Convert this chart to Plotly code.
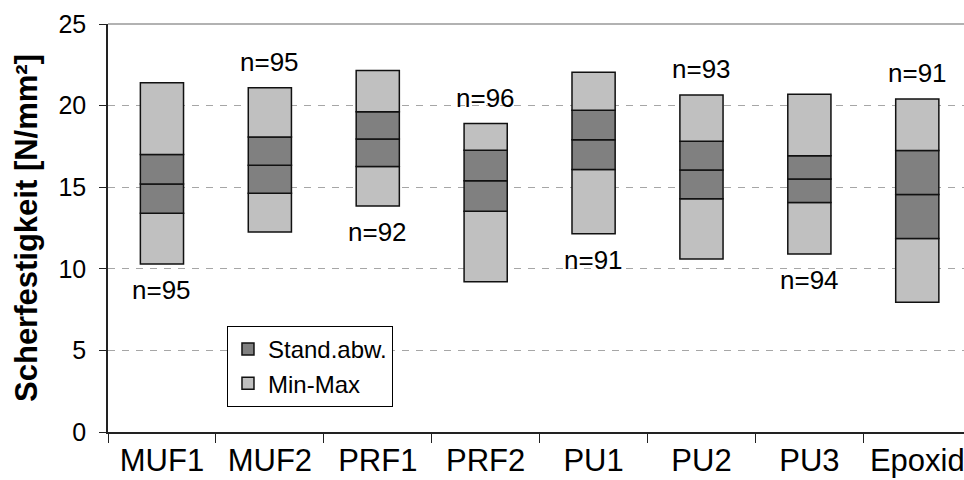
import plotly.graph_objects as go

# Shear strength per adhesive: minimum, mean, standard deviation, maximum [N/mm²]
adhesives = ["MUF1", "MUF2", "PRF1", "PRF2", "PU1", "PU2", "PU3", "Epoxid"]
min_vals = [10.3, 12.25, 13.85, 9.2, 12.15, 10.6, 10.9, 7.95]
mean_vals = [15.2, 16.35, 17.95, 15.4, 17.9, 16.05, 15.5, 14.55]
sd_vals = [1.8, 1.72, 1.68, 1.87, 1.82, 1.76, 1.43, 2.7]
max_vals = [21.4, 21.1, 22.15, 18.9, 22.05, 20.65, 20.7, 20.4]
n_vals = [95, 95, 92, 96, 91, 93, 94, 91]
n_side = ["below", "above", "below", "above", "below", "above", "below", "above"]

LIGHT = "#C0C0C0"
DARK = "#808080"
FONT = "Liberation Sans, Arial, sans-serif"

lo = [m - s for m, s in zip(mean_vals, sd_vals)]
hi = [m + s for m, s in zip(mean_vals, sd_vals)]

fig = go.Figure()

segments = [
    ("Min-Max", LIGHT, min_vals, [l - mn for l, mn in zip(lo, min_vals)], False, 2),
    ("Stand.abw.", DARK, lo, sd_vals, True, 1),
    ("Stand.abw.", DARK, mean_vals, sd_vals, False, 1),
    ("Min-Max", LIGHT, hi, [mx - h for mx, h in zip(max_vals, hi)], True, 2),
]
for name, color, base, height, show, rank in segments:
    fig.add_trace(go.Bar(
        x=adhesives, y=height, base=base, name=name,
        marker=dict(color=color, line=dict(color="#111111", width=1.5)),
        width=0.4, showlegend=show, legendrank=rank, legendgroup=name,
        hoverinfo="skip",
    ))

# sample size labels above or below each bar
for cat, n, side, mn, mx in zip(adhesives, n_vals, n_side, min_vals, max_vals):
    fig.add_annotation(
        x=cat, y=mx if side == "above" else mn,
        yshift=26 if side == "above" else -26,
        text=f"n={n}", showarrow=False, yanchor="middle",
        font=dict(family=FONT, size=26, color="black"),
    )

# grey frame line along the top of the plot area
fig.add_shape(type="line", xref="paper", yref="paper", x0=0, x1=1, y0=1, y1=1,
              line=dict(color="#999999", width=1.5))

fig.update_layout(
    width=964, height=480,
    margin=dict(l=108, r=0, t=24, b=48),
    paper_bgcolor="white", plot_bgcolor="white",
    barmode="overlay",
    font=dict(family=FONT, color="black"),
    legend=dict(
        x=0.139, y=0.26, xanchor="left", yanchor="top",
        bgcolor="white", bordercolor="black", borderwidth=1,
        font=dict(family=FONT, size=24, color="black"),
        itemclick=False, tracegroupgap=0,
    ),
    xaxis=dict(
        type="category", range=[-0.5, 7.433],
        showline=True, linecolor="#222222", linewidth=1.5,
        ticks="outside", tickson="boundaries", ticklen=9, tickcolor="#222222",
        tickfont=dict(family=FONT, size=31, color="black"),
        showgrid=False, zeroline=False,
    ),
    yaxis=dict(
        range=[0, 25], tickvals=[0, 5, 10, 15, 20, 25],
        showline=True, linecolor="#222222", linewidth=1.5,
        ticks="outside", ticklen=7, tickcolor="#222222",
        tickfont=dict(family=FONT, size=25, color="black"),
        ticklabelstandoff=8,
        showgrid=True, gridcolor="#A6A6A6", gridwidth=1, griddash="7px,7px",
        zeroline=False,
        title=dict(text="<b>Scherfestigkeit [N/mm²]</b>",
                   font=dict(family=FONT, size=31, color="black"), standoff=12),
    ),
)

fig.write_html("out.html")
